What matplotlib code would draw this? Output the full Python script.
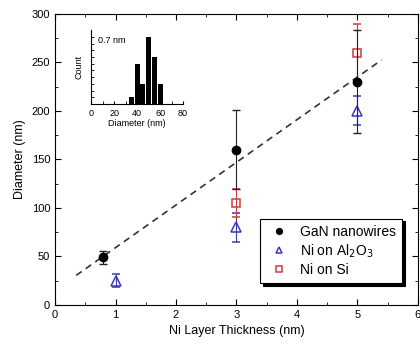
import matplotlib
matplotlib.use("Agg")
import matplotlib.pyplot as plt
import numpy as np

plt.rcParams["font.family"] = ["Liberation Sans", "DejaVu Sans"]

# GaN nanowires
gan_x = [0.8, 3, 5]
gan_y = [49, 160, 230]
gan_err = [7, 41, 53]

# Ni on Al2O3
al_x = [1, 3, 5]
al_y = [25, 80, 200]
al_err = [7, 15, 15]

# Ni on Si
si_x = [3, 5]
si_y = [105, 260]
si_err = [14, 30]

# linear fit (dashed)
fit_slope = 44.0
fit_icept = 15.0
fit_range = [0.35, 5.4]

# inset histogram
hist_centers = [35, 40, 45, 50, 55, 60]
hist_counts = [1, 6, 3, 10, 7, 3]

blue = "#3a3ab8"
red = "#d03a3a"

fig = plt.figure(figsize=(4.2, 3.5), dpi=100)
ax = fig.add_axes([0.131, 0.129, 0.864, 0.831])

fx = np.array(fit_range)
ax.plot(fx, fit_slope * fx + fit_icept, "--", color="#333333", lw=1.2, dashes=(4, 3))

ax.errorbar(gan_x, gan_y, yerr=gan_err, fmt="o", color="black", ms=6,
            ecolor="#222222", elinewidth=0.8, capsize=3, label="GaN nanowires", zorder=4)
ax.errorbar(al_x, al_y, yerr=al_err, fmt="^", color=blue, mfc="none", ms=7,
            mew=1.1, elinewidth=0.8, capsize=3, label="Ni on Al$_2$O$_3$", zorder=3)
ax.errorbar(si_x, si_y, yerr=si_err, fmt="s", color=red, mfc="none", ms=6,
            mew=1.1, elinewidth=0.8, capsize=3, label="Ni on Si", zorder=3)

ax.set_xlim(0, 6)
ax.set_ylim(0, 300)
ax.set_xticks([0, 1, 2, 3, 4, 5, 6])
ax.set_yticks([0, 50, 100, 150, 200, 250, 300])
ax.set_xticks(np.arange(0.5, 6, 1), minor=True)
ax.set_yticks(np.arange(25, 300, 50), minor=True)
ax.tick_params(which="both", direction="in", top=True, right=True, labelsize=8)
ax.tick_params(which="major", length=4)
ax.tick_params(which="minor", length=2)
ax.set_xlabel("Ni Layer Thickness (nm)", fontsize=9)
ax.set_ylabel("Diameter (nm)", fontsize=9)

handles, labels = ax.get_legend_handles_labels()
handles = [h[0] for h in handles]
leg = ax.legend(handles, labels, loc="lower right", bbox_to_anchor=(0.975, 0.05),
                fontsize=10, frameon=True, fancybox=False,
                shadow={"color": "black", "alpha": 1, "ox": 2, "oy": -2},
                handletextpad=0.6, borderpad=0.45, labelspacing=0.25, markerscale=0.7,
                handlelength=1.8)
leg.get_frame().set_edgecolor("black")
leg.get_frame().set_linewidth(0.8)

# inset
ins = fig.add_axes([0.217, 0.703, 0.219, 0.211])
ins.bar(hist_centers, hist_counts, width=4.2, color="black")
ins.set_xlim(0, 80)
ins.set_ylim(0, 11)
ins.set_xticks([0, 20, 40, 60, 80])
ins.set_yticks([])
ins.set_yticks(np.arange(1, 11, 1), minor=True)
ins.set_xticks(np.arange(10, 80, 20), minor=True)
ins.spines["top"].set_visible(False)
ins.spines["right"].set_visible(False)
ins.tick_params(which="both", direction="in", labelsize=6.5, length=2)
ins.set_xlabel("Diameter (nm)", fontsize=6.5, labelpad=1)
ins.set_ylabel("Count", fontsize=6.5, labelpad=2)
ins.text(0.08, 0.92, "0.7 nm", transform=ins.transAxes, fontsize=6.5, va="top")
ins.patch.set_alpha(0)

fig.savefig("out.png", dpi=100)
